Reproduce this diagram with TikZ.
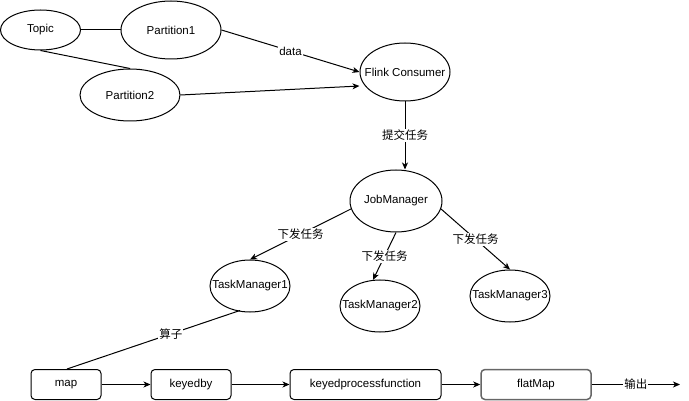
\documentclass[tikz,border=0pt]{standalone}
\usepackage{fontspec}
\setmainfont{Liberation Sans}
\newfontfamily\cjk{Noto Sans CJK SC}
\usetikzlibrary{shapes.geometric,arrows.meta}

\begin{document}
\begin{tikzpicture}[
    x=1pt, y=-1pt,
    font=\fontsize{11.5}{13}\selectfont,
    line width=1pt,
    ell/.style={ellipse,draw,inner sep=0pt},
    box/.style={rectangle,rounded corners=4pt,draw,minimum height=30pt,inner sep=0pt},
    arr/.style={-{Stealth[length=7pt,width=6pt,inset=2pt]}},
    lbl/.style={fill=white,inner sep=1pt,font=\cjk\fontsize{11.5}{13}\selectfont}
  ]
    \useasboundingbox (0,0) rectangle (689,401);
    % kafka side
    \node[ell,minimum width=80pt,minimum height=40pt] (topic) at (40.5,30) {\makebox[0pt]{Topic}};
    \node[ell,minimum width=100pt,minimum height=58pt] (part1) at (171,30) {\makebox[0pt]{Partition1}};
    \node[ell,minimum width=100pt,minimum height=52pt] (part2) at (130,95) {\makebox[0pt]{Partition2}};
    \node[ell,minimum width=90pt,minimum height=58pt] (flink) at (405,72) {\makebox[0pt]{Flink Consumer}};
    % flink cluster
    \node[ell,minimum width=92pt,minimum height=62pt] (jm) at (396,201) {\makebox[0pt]{JobManager}};
    \node[ell,minimum width=80pt,minimum height=52pt] (tm1) at (250,286) {\makebox[0pt]{TaskManager1}};
    \node[ell,minimum width=80pt,minimum height=52pt] (tm2) at (380,306) {\makebox[0pt]{TaskManager2}};
    \node[ell,minimum width=80pt,minimum height=52pt] (tm3) at (510,296) {\makebox[0pt]{TaskManager3}};
    % operators
    \node[box,minimum width=70pt] (map) at (66,384.5) {map};
    \node[box,minimum width=80pt] (keyed) at (191,384.5) {keyedby};
    \node[box,minimum width=151pt] (kpf) at (365.5,384.5) {keyedprocessfunction};
    \node[box,minimum width=110pt,draw=black!60,line width=1.5pt] (flat) at (536,384.5) {flatMap};
    \coordinate (out) at (680,384.5);

    \draw (topic) -- (part1);
    \draw (topic.south) -- (part2.north);
    \draw[arr] (part1.east) -- node[lbl,font=\fontsize{11.5}{13}\selectfont] {data} (flink.west);
    \draw[arr] (part2.east) -- ([yshift=-14pt]flink.west);
    \draw[arr] (flink.south) -- node[lbl] {提交任务} (flink.south |- jm.north);
    \draw[arr] (jm.190) -- node[lbl] {下发任务} (tm1.north);
    \draw[arr] (jm.south) -- node[lbl] {下发任务} (tm2.105);
    \draw[arr] (jm.-10) -- node[lbl] {下发任务} (tm3.north);
    \draw ([xshift=-10pt,yshift=2pt]tm1.south) -- node[lbl,pos=0.4] {算子} ([xshift=1pt]map.north);
    \draw[arr] (map) -- (keyed);
    \draw[arr] (keyed) -- (kpf);
    \draw[arr] (kpf) -- (flat);
    \draw[arr] (flat) -- node[lbl] {输出} (out);
  \end{tikzpicture}
\end{document}
